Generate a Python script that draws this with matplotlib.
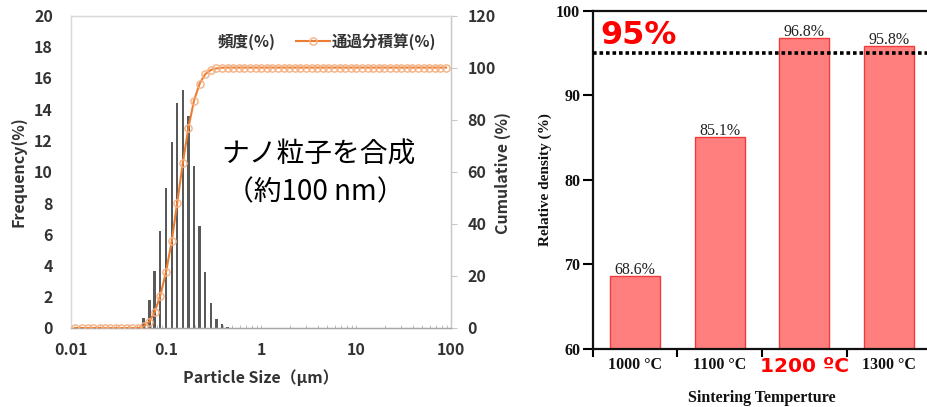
import numpy as np
import matplotlib
matplotlib.use("Agg")
import matplotlib.pyplot as plt
from matplotlib.lines import Line2D
from matplotlib.patches import Patch

# ---- particle size distribution (laser diffraction channels, µm) ----
sizes_um = [
    0.011, 0.013, 0.015, 0.017, 0.020, 0.023, 0.026, 0.030, 0.034, 0.039,
    0.044, 0.051, 0.058, 0.067, 0.076, 0.087, 0.100, 0.115, 0.131, 0.150,
    0.172, 0.197, 0.226, 0.259, 0.296, 0.339, 0.389, 0.445, 0.510, 0.584,
    0.669, 0.766, 0.877, 1.005, 1.151, 1.318, 1.510, 1.729, 1.981, 2.269,
    2.599, 2.976, 3.409, 3.905, 4.472, 5.122, 5.867, 6.720, 7.697, 8.816,
    10.097, 11.565, 13.246, 15.172, 17.377, 19.904, 22.797, 26.111, 29.907, 34.255,
    39.234, 44.938, 51.471, 58.953, 67.523, 77.339, 88.583,
]
frequency_pct = [
    0, 0, 0, 0, 0, 0, 0, 0, 0, 0,
    0, 0, 0.66, 1.8, 3.66, 6.24, 8.98, 11.9, 14.4, 15.24,
    13.6, 10.4, 6.56, 3.6, 1.6, 0.6, 0.25, 0.05, 0, 0,
    0, 0, 0, 0, 0, 0, 0, 0, 0, 0,
    0, 0, 0, 0, 0, 0, 0, 0, 0, 0,
    0, 0, 0, 0, 0, 0, 0, 0, 0, 0,
    0, 0, 0, 0, 0, 0, 0,
]
size_ticks = [0.01, 0.1, 1, 10, 100]
size_tick_labels = ["0.01", "0.1", "1", "10", "100"]

# ---- relative density vs sintering temperature ----
temperatures = ["1000 °C", "1100 °C", "1200 ºC", "1300 °C"]
relative_density = [68.6, 85.1, 96.8, 95.8]
target_density = 95

W, H = 928, 407
fig = plt.figure(figsize=(W / 100, H / 100), dpi=100)

def fr(x0, y0, x1, y1):
    return [x0 / W, 1 - y1 / H, (x1 - x0) / W, (y1 - y0) / H]

JP = ["Noto Sans CJK JP", "DejaVu Sans"]
TXT = "#333333"
ORANGE = "#ED7D31"
RING = "#F4B183"

# ================= left: particle size distribution =================
ax = fig.add_axes(fr(71, 15.5, 451, 328))
ax2 = ax.twinx()

x = np.array(sizes_um)
half = 10 ** 0.0125
ax.bar(x / half, frequency_pct, width=x * half - x / half, align="edge",
       color="#595959", linewidth=0, zorder=2)
ax.set_xscale("log")
ax.set_xlim(0.01, 100)
ax.set_ylim(0, 20)
ax.set_yticks(np.arange(0, 21, 2))
ax.set_xticks(size_ticks)
ax.set_xticklabels(size_tick_labels)

freq = np.array(frequency_pct)
cumulative = np.cumsum(freq) / freq.sum() * 100
ax2.plot(x, cumulative, color=ORANGE, lw=1.5, marker="o", ms=5.2,
         mfc="none", mec=RING, mew=1.0, zorder=3)
ax2.set_ylim(0, 120)
ax2.set_yticks(np.arange(0, 121, 20))

for a in (ax, ax2):
    for s in ("left", "top"):
        a.spines[s].set_color("#D9D9D9")
    a.spines["right"].set_color("#C8C8C8")
    a.spines["bottom"].set_color("#A6A6A6")
    for sp in a.spines.values():
        sp.set_linewidth(0.9)

ax.tick_params(axis="x", which="both", direction="in", length=2.5, width=0.7,
               color="#BDBDBD", pad=10)
ax.tick_params(axis="y", length=0, pad=13)
ax2.tick_params(axis="y", direction="out", length=4, width=0.8,
                color="#C8C8C8", pad=8)
for lab in ax.get_xticklabels() + ax.get_yticklabels() + ax2.get_yticklabels():
    lab.set_fontfamily(JP)
    lab.set_fontweight("bold")
    lab.set_fontsize(11.5)
    lab.set_color(TXT)

ax.text(0.5, -0.16, "Particle Size（μm）", transform=ax.transAxes, ha="center",
        va="center", fontsize=11.5, fontweight="bold", family=JP, color=TXT)
fig.text(18 / W, 1 - 172 / H, "Frequency(%)", rotation=90, ha="center",
         va="center", fontsize=11.5, fontweight="bold", family=JP, color=TXT)
fig.text(503 / W, 1 - 173 / H, "Cumulative (%)", rotation=90, ha="center",
         va="center", fontsize=11.5, fontweight="bold", family=JP, color=TXT)

handles = [Patch(facecolor="none", edgecolor="none"),
           Line2D([], [], color=ORANGE, lw=1.5, marker="o", ms=5.2,
                  mfc="none", mec=RING, mew=1.0)]
leg = ax2.legend(handles, ["頻度(%)", "通過分積算(%)"], ncol=2, frameon=False,
                 loc="center", bbox_to_anchor=(309 / W, 1 - 41.5 / H),
                 bbox_transform=fig.transFigure, handlelength=2.2,
                 handletextpad=0.1, columnspacing=1.3,
                 prop={"family": JP, "weight": "bold", "size": 11.2})
for t in leg.get_texts():
    t.set_color(TXT)

fig.text(318 / W, 1 - 155 / H, "ナノ粒子を合成", ha="center", va="center",
         fontsize=20, family=JP, color="black")
fig.text(315 / W, 1 - 192 / H, "（約100 nm）", ha="center", va="center",
         fontsize=20, family=JP, color="black")

# ================= right: relative density =================
bx = fig.add_axes(fr(592.7, 10.7, 931.5, 349))
pos = np.arange(len(temperatures))
bx.bar(pos, relative_density, width=0.59, color="#FF7F7F",
       edgecolor="#F23A3A", linewidth=1.0, zorder=2)
bx.set_xlim(-0.5, len(temperatures) - 0.5)
bx.set_ylim(60, 100)
bx.set_yticks([60, 70, 80, 90, 100])
bx.set_xticks(pos)
bx.set_xticklabels(temperatures)
bx.set_xticks(np.arange(-0.5, len(temperatures) - 0.5, 1.0), minor=True)
bx.tick_params(axis="x", which="major", length=0, pad=6)
bx.tick_params(axis="x", which="minor", length=6, width=1.5, direction="out",
               color="black")
bx.tick_params(axis="y", length=7, width=1.5, direction="out", pad=2,
               color="black")
for s in ("left", "bottom", "top", "right"):
    bx.spines[s].set_linewidth(1.6)
    bx.spines[s].set_color("#111111")

for lab in bx.get_yticklabels() + bx.get_xticklabels():
    lab.set_fontfamily("Liberation Serif")
    lab.set_fontweight("bold")
    lab.set_fontsize(11.5)
    lab.set_color("#111111")
hl = bx.get_xticklabels()[2]
hl.set_fontfamily("DejaVu Sans")
hl.set_fontsize(14.5)
hl.set_color("#FF0000")

for p, v in zip(pos, relative_density):
    bx.annotate(f"{v:.1f}%", (p, v), xytext=(0, 1.5), textcoords="offset points",
                ha="center", va="baseline", fontsize=11.5,
                family="Liberation Serif", color="#222222")

bx.axhline(target_density, color="black", lw=2.6, linestyle=(0, (1.0, 0.8)),
           dash_capstyle="butt", zorder=3)
bx.text(-0.414, 96.05, f"{target_density}%", ha="left", va="baseline",
        fontsize=23, fontweight="bold", family="DejaVu Sans", color="#FF0000")

bx.text(0.5, -0.145, "Sintering Temperture", transform=bx.transAxes,
        ha="center", va="center", fontsize=11.5, fontweight="bold",
        family="Liberation Serif", color="#111111")
fig.text(545 / W, 1 - 180 / H, "Relative density (%)", rotation=90,
         ha="center", va="center", fontsize=11, fontweight="bold",
         family="Liberation Serif", color="#111111")

fig.savefig("out.png", dpi=100)
